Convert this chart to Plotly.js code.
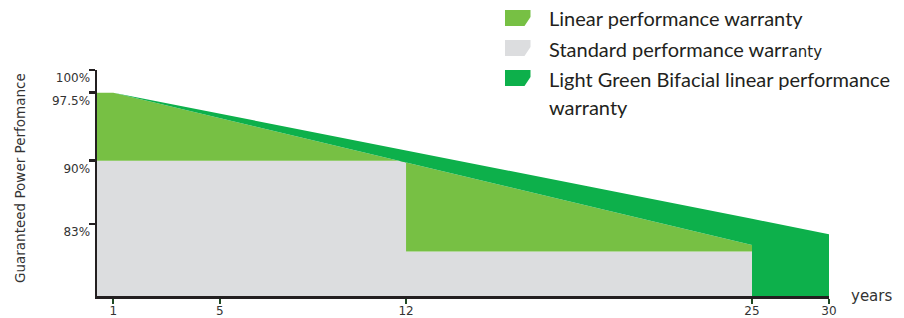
<!DOCTYPE html>
<html>
<head>
<meta charset="utf-8">
<script src="https://cdn.plot.ly/plotly-3.0.1.min.js"></script>
<style>html,body{margin:0;padding:0;background:#fff;}#chart{width:904px;height:318px;}</style>
</head>
<body>
<div id="chart"></div>
<script>
// ---- data ----
const xTickYears = [1, 5, 12, 25, 30];
const yTickValues = [100, 97.5, 90, 83];
const yTickLabels = ['100%', '97.5%', '90%', '83%'];

const standardYears = [0, 12, 12, 25];
const standardValues = [90, 90, 80, 80];

const linearYears = [0, 1, 25];
const linearValues = [97.5, 97.5, 80.7];

const bifacialYears = [0, 1, 25, 30];
const bifacialValues = [97.5, 97.5, 83.6, 81.9];

const legendLabels = [
  'Linear performance warranty',
  'Standard performance warr<span style="font-family:DejaVu Sans;font-size:15px">anty</span>',
  'Light Green Bifacial linear performance',
  'warranty'
];

// ---- styles ----
const LIGHT = '#77C044', GREY = '#DCDDDF', DARK = '#0DB04B', INK = '#231F20';
const SPLIT = 25; // the last 5 years are drawn on a compressed second axis segment

function part(xs, ys, test) {
  const ox = [], oy = [];
  xs.forEach((x, i) => { if (test(x)) { ox.push(x); oy.push(ys[i]); } });
  return {x: ox, y: oy};
}

const stdA = part(standardYears, standardValues, x => x <= SPLIT);
const linA = part(linearYears, linearValues, x => x <= SPLIT);
const bifA = part(bifacialYears, bifacialValues, x => x <= SPLIT);
const bifB = part(bifacialYears, bifacialValues, x => x >= SPLIT);

const base = {type: 'scatter', mode: 'lines', line: {width: 0}, hoverinfo: 'skip', showlegend: false};
const traces = [
  Object.assign({}, base, {x: stdA.x, y: stdA.y, fill: 'tozeroy', fillcolor: GREY, xaxis: 'x', yaxis: 'y'}),
  Object.assign({}, base, {x: linA.x, y: linA.y, fill: 'tonexty', fillcolor: LIGHT, xaxis: 'x', yaxis: 'y'}),
  Object.assign({}, base, {x: bifA.x, y: bifA.y, fill: 'tonexty', fillcolor: DARK, xaxis: 'x', yaxis: 'y'}),
  Object.assign({}, base, {x: bifB.x, y: bifB.y, fill: 'tozeroy', fillcolor: DARK, xaxis: 'x2', yaxis: 'y'})
];

const W = 904, H = 318, ML = 97, MR = 75, MT = 70, MB = 22;
const PW = W - ML - MR, PH = H - MT - MB;
const px = v => (v - ML) / PW;
const py = v => (H - MB - v) / PH;

const tickFont = {family: 'DejaVu Sans', size: 12, color: '#333'};
const xCommon = {
  showgrid: false, zeroline: false, showline: true, linecolor: INK, linewidth: 2.5,
  ticks: 'outside', ticklen: 5, tickwidth: 2, tickcolor: '#1F4A24', ticklabelstandoff: -3,
  tickfont: tickFont, automargin: false, fixedrange: true, anchor: 'y'
};
const D1 = px(752);

function iconPath(y0) {
  const x0 = 505, x1 = 530.5, y1 = y0 + 16;
  return 'M' + px(x0) + ',' + py(y0) + ' L' + px(x1) + ',' + py(y0) + ' L' + px(x1) + ',' + py(y0 + 7) +
         ' L' + px(x1 - 6) + ',' + py(y1) + ' L' + px(x0) + ',' + py(y1) + ' Z';
}
const legendColors = [LIGHT, GREY, DARK];
const iconTops = [10, 40, 70];
const shapes = legendColors.map((c, i) => ({type: 'path', xref: 'paper', yref: 'paper',
  path: iconPath(iconTops[i]), fillcolor: c, line: {width: 0}}));

const legFont = {family: 'Lato', size: 20, color: INK};
const legendYs = [18, 49, 79, 107];
const annotations = legendLabels.map((t, i) => ({
  text: t, xref: 'paper', yref: 'paper', x: px(547), y: py(legendYs[i]),
  xanchor: 'left', yanchor: 'middle', showarrow: false, font: legFont
}));
annotations.push({text: 'years', xref: 'paper', yref: 'paper', x: px(849), y: py(296),
  xanchor: 'left', yanchor: 'middle', showarrow: false, font: {family: 'DejaVu Sans', size: 15, color: '#333'}});
annotations.push({text: 'Guaranteed Power Perfomance', xref: 'paper', yref: 'paper', x: px(20), y: py(178),
  xanchor: 'center', yanchor: 'middle', textangle: -90, showarrow: false,
  font: {family: 'DejaVu Sans', size: 13.5, color: '#333'}});

const layout = {
  width: W, height: H,
  margin: {l: ML, r: MR, t: MT, b: MB, pad: 0},
  paper_bgcolor: '#fff', plot_bgcolor: '#fff',
  showlegend: false,
  xaxis: Object.assign({}, xCommon, {domain: [0, D1], range: [0.387, SPLIT],
    tickmode: 'array', tickvals: xTickYears.filter(v => v < SPLIT), ticktext: xTickYears.filter(v => v < SPLIT).map(String)}),
  xaxis2: Object.assign({}, xCommon, {domain: [D1, 1], range: [SPLIT, 30],
    tickmode: 'array', tickvals: xTickYears.filter(v => v >= SPLIT), ticktext: xTickYears.filter(v => v >= SPLIT).map(String)}),
  yaxis: {
    range: [75.08, 100], showgrid: false, zeroline: false, showline: true, linecolor: INK, linewidth: 2.5,
    ticks: 'outside', ticklen: 6, tickwidth: 2.5, tickcolor: INK,
    tickmode: 'array', tickvals: yTickValues, ticktext: yTickLabels,
    tickfont: tickFont, ticklabelshift: 8, ticklabelstandoff: -4, automargin: false, fixedrange: true
  },
  shapes: shapes,
  annotations: annotations
};

Plotly.newPlot('chart', traces, layout, {displayModeBar: false, staticPlot: true});
</script>
</body>
</html>
